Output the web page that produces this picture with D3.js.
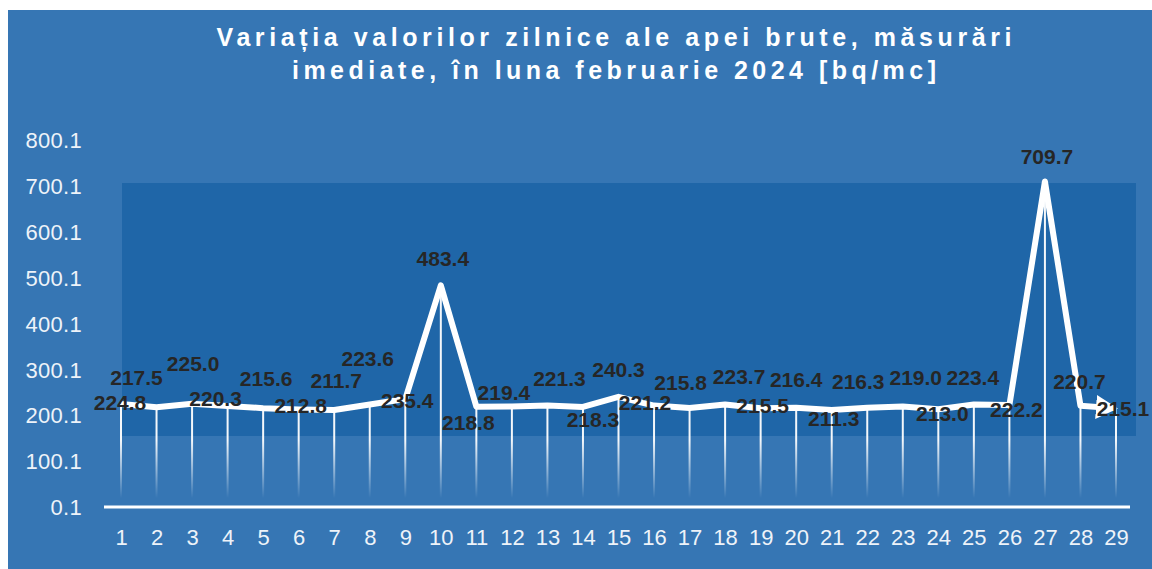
<!DOCTYPE html>
<html>
<head>
<meta charset="utf-8">
<script src="https://cdn.jsdelivr.net/npm/d3@7/dist/d3.min.js"></script>
<style>
  html, body { margin: 0; padding: 0; background: #ffffff; }
  svg { display: block; }
</style>
</head>
<body>
<div id="chart"></div>
<script>
// ---- data ----
const titleLines = ["Variația valorilor zilnice ale apei brute, măsurări", "imediate, în luna februarie 2024 [bq/mc]"];
const days = d3.range(1, 30);
const values = [224.8, 217.5, 225.0, 220.3, 215.6, 212.8, 211.7, 223.6, 235.4, 483.4,
                218.8, 219.4, 221.3, 218.3, 240.3, 221.2, 215.8, 223.7, 215.5, 216.4,
                211.3, 216.3, 219.0, 213.0, 223.4, 222.2, 709.7, 220.7, 215.1];
const yTicks = [0.1, 100.1, 200.1, 300.1, 400.1, 500.1, 600.1, 700.1, 800.1];

// label placement (layout, not data): offset of each value label from its point
const labelDx = [-1, -20, 1, -12, 3, 2, 2, -2, 2, 2, -8, -8, 12, 10, 0, -9, -9, 14, 2, 0, 2, -9, 13, 4, -1, 7, 2, -1, 7];
const labelDy = [-1, -30, -40, -8, -30, -4, -29, -46, 1, -27, 16, -14, -27, 13, -27, -3, -26, -28, -3, -28, 8, -26, -29, 4, -27, 4, -25, -24, 0];

const W = 1152, H = 569;
const svg = d3.select("#chart").append("svg").attr("width", W).attr("height", H);

const defs = svg.append("defs");
const grad = defs.append("linearGradient").attr("id", "dropFade")
  .attr("gradientUnits", "userSpaceOnUse").attr("x1", 0).attr("x2", 0).attr("y1", 440).attr("y2", 498);
grad.append("stop").attr("offset", 0).attr("stop-color", "#ffffff").attr("stop-opacity", 0.95);
grad.append("stop").attr("offset", 1).attr("stop-color", "#ffffff").attr("stop-opacity", 0);

defs.append("marker").attr("id", "arrow")
  .attr("markerUnits", "userSpaceOnUse")
  .attr("viewBox", "0 0 22 24").attr("refX", 20).attr("refY", 12)
  .attr("markerWidth", 22).attr("markerHeight", 24).attr("orient", "auto")
  .append("path").attr("d", "M0,0 L22,12 L0,24 Z").attr("fill", "#ffffff");

// backgrounds
svg.append("rect").attr("x", 8).attr("y", 10).attr("width", W - 8).attr("height", H - 10).attr("fill", "#3676b4");
svg.append("rect").attr("x", 122).attr("y", 183).attr("width", 1014).attr("height", 253).attr("fill", "#1f66a8");

// scales
const x = d3.scalePoint().domain(days).range([121, 1116]);
const y = d3.scaleLinear().domain([0.1, 800.1]).range([507, 140]);

// title
const title = svg.append("g").attr("font-family", "'Liberation Sans', Arial, sans-serif")
  .attr("font-weight", "bold").attr("font-size", 25).attr("fill", "#ffffff").attr("text-anchor", "middle");
title.selectAll("text").data(titleLines).enter().append("text")
  .attr("x", 614).attr("y", (d, i) => 46 + i * 33)
  .attr("textLength", (d, i) => i === 0 ? 795 : 644)
  .attr("lengthAdjust", "spacing")
  .text(d => d);

// y axis
const yAxis = d3.axisLeft(y).tickValues(yTicks).tickFormat(d3.format(".1f")).tickSize(0).tickPadding(0);
const yg = svg.append("g").attr("transform", "translate(82,0)").call(yAxis);
yg.select(".domain").remove();
yg.selectAll("text").attr("font-family", "'Liberation Sans', Arial, sans-serif").attr("font-size", 22)
  .attr("letter-spacing", 0.3).attr("fill", "#eef3f9").attr("dy", "0.35em");

// x axis
const xAxis = d3.axisBottom(x).tickSize(0).tickPadding(0);
const xg = svg.append("g").attr("transform", "translate(0,537)").call(xAxis);
xg.select(".domain").remove();
xg.selectAll("text").attr("font-family", "'Liberation Sans', Arial, sans-serif").attr("font-size", 22)
  .attr("fill", "#eef3f9").attr("dy", "0.35em");

// baseline
svg.append("line").attr("x1", 104).attr("x2", 1130).attr("y1", y(0.1)).attr("y2", y(0.1))
  .attr("stroke", "#ffffff").attr("stroke-width", 3);

// drop lines
svg.append("g").selectAll("line").data(days).enter().append("line")
  .attr("x1", d => x(d)).attr("x2", d => x(d))
  .attr("y1", (d, i) => y(values[i])).attr("y2", 498)
  .attr("stroke", "url(#dropFade)").attr("stroke-width", 2);

// main line
const line = d3.line().x((d, i) => x(days[i])).y(d => y(d));
svg.append("path").datum(values).attr("d", line)
  .attr("fill", "none").attr("stroke", "#ffffff").attr("stroke-width", 6)
  .attr("stroke-linejoin", "round")
  .attr("marker-end", "url(#arrow)");

// value labels
svg.append("g").selectAll("text").data(values).enter().append("text")
  .attr("x", (d, i) => x(days[i]) + labelDx[i])
  .attr("y", (d, i) => y(d) + labelDy[i])
  .attr("dy", "0.36em")
  .attr("text-anchor", "middle")
  .attr("font-family", "'Liberation Sans', Arial, sans-serif")
  .attr("font-weight", "bold").attr("font-size", 21).attr("fill", "#262626")
  .text(d => d.toFixed(1));
</script>
</body>
</html>
